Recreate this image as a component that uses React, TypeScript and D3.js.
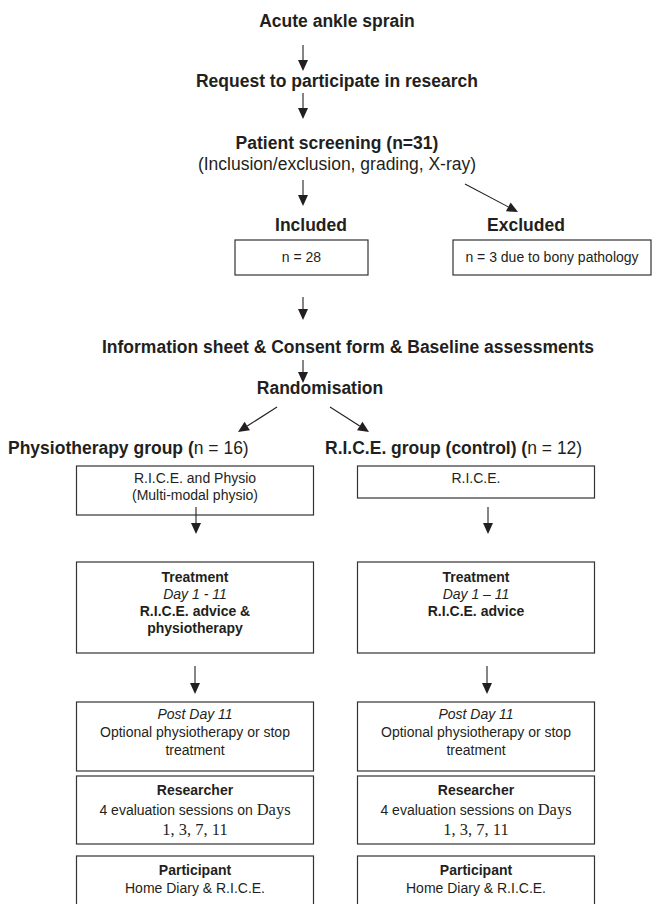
import React, { useEffect, useRef } from "react";
import * as d3 from "d3";

// flow steps, top part
const topSteps = ["Acute ankle sprain", "Request to participate in research"];
const screeningTitle = "Patient screening (n=31)";
const screeningNote = "(Inclusion/exclusion, grading, X-ray)";
const outcomeTitles = ["Included", "Excluded"];
const outcomeCounts = ["n = 28", "n = 3 due to bony pathology"];
const consentStep = "Information sheet & Consent form & Baseline assessments";
const randomStep = "Randomisation";

// the two arms
const groupNames = ["Physiotherapy group (", "R.I.C.E. group (control) ("];
const groupCounts = ["n = 16)", "n = 12)"];
const groupInterventions = [["R.I.C.E. and Physio", "(Multi-modal physio)"], ["R.I.C.E."]];
const treatmentTitle = "Treatment";
const treatmentDays = ["Day 1 - 11", "Day 1 \u2013 11"];
const treatmentBody = [["R.I.C.E. advice &", "physiotherapy"], ["R.I.C.E. advice"]];
const postTitle = "Post Day 11";
const postBody = ["Optional physiotherapy or stop", "treatment"];
const researcherTitle = "Researcher";
const researcherBody = "4 evaluation sessions on ";
const researcherDaysWord = "Days";
const researcherDayList = "1, 3, 7, 11";
const participantTitle = "Participant";
const participantBody = "Home Diary & R.I.C.E.";

const W = 659;
const H = 904;
const SANS = "'Liberation Sans', Arial, Helvetica, sans-serif";
const SERIF = "'Liberation Serif', 'Times New Roman', serif";
const INK = "#231f20";
const HEAD = 17.5;
const BODY = 14;

const drawChart = (svgEl: SVGSVGElement) => {
    const svg = d3.select(svgEl);
    svg.selectAll("*").remove();
    const g = svg.append("g");

    // column centres for the two arms
    const colBox = d3.scalePoint<number>().domain([0, 1]).range([195, 476]);
    const colArrow = d3.scalePoint<number>().domain([0, 1]).range([196, 488]);
    const boxW = 237;

    const label = (x: number, y: number, str: string, size: number, bold = false, anchor = "middle", italic = false) =>
        g.append("text")
            .attr("x", x)
            .attr("y", y)
            .attr("text-anchor", anchor)
            .attr("font-family", SANS)
            .attr("font-size", size)
            .attr("font-weight", bold ? "bold" : "normal")
            .attr("font-style", italic ? "italic" : "normal")
            .attr("fill", INK)
            .text(str);

    const box = (x: number, y: number, w: number, h: number) =>
        g.append("rect")
            .attr("x", x)
            .attr("y", y)
            .attr("width", w)
            .attr("height", h)
            .attr("fill", "none")
            .attr("stroke", "#333")
            .attr("stroke-width", 1.2);

    const arrow = (x1: number, y1: number, x2: number, y2: number) => {
        const ang = Math.atan2(y2 - y1, x2 - x1);
        const len = 11, half = 5;
        const bx = x2 - len * Math.cos(ang), by = y2 - len * Math.sin(ang);
        g.append("line")
            .attr("x1", x1).attr("y1", y1)
            .attr("x2", bx).attr("y2", by)
            .attr("stroke", INK).attr("stroke-width", 1.1);
        const px = -Math.sin(ang) * half, py = Math.cos(ang) * half;
        g.append("path")
            .attr("d", d3.line()([[x2, y2], [bx + px, by + py], [bx - px, by - py]]) + "Z")
            .attr("fill", INK);
    };

    // top chain
    label(337, 27, topSteps[0], HEAD, true);
    arrow(303, 45, 303, 71);
    label(337, 87, topSteps[1], HEAD, true);
    arrow(303, 93, 303, 119);
    label(337, 149, screeningTitle, HEAD, true);
    label(337, 170, screeningNote, HEAD);
    arrow(303, 180, 303, 206);
    arrow(465, 184, 518, 212);

    // included / excluded
    label(311, 231, outcomeTitles[0], HEAD, true);
    label(526, 231, outcomeTitles[1], HEAD, true);
    box(235, 240, 133, 35);
    box(453, 240, 198, 35);
    label(301.5, 262, outcomeCounts[0], BODY);
    label(552, 262, outcomeCounts[1], BODY);

    arrow(303, 297, 303, 320);
    label(348, 353, consentStep, HEAD, true);
    arrow(303, 360, 303, 383);
    label(320, 394, randomStep, HEAD, true);
    arrow(277, 407, 238, 432);
    arrow(330, 407, 369, 432);

    // group headings
    const headX = [8, 325];
    groupNames.forEach((name, i) => {
        const t = label(headX[i], 454, "", HEAD, true, "start");
        t.append("tspan").text(name);
        t.append("tspan").attr("font-weight", "normal").text(groupCounts[i]);
    });

    // intervention boxes
    const interH = [49, 32];
    groupInterventions.forEach((lines, i) => {
        box(colBox(i)! - boxW / 2, 466, boxW, interH[i]);
        lines.forEach((ln, j) => label(colBox(i)!, 483 + j * 17, ln, BODY));
        arrow(colArrow(i)!, 507, colArrow(i)!, 534);
    });

    // treatment and follow-up boxes
    [0, 1].forEach((i) => {
        const cx = colBox(i)!;
        box(cx - boxW / 2, 562, boxW, 91);
        label(cx, 582, treatmentTitle, BODY, true);
        label(cx, 599, treatmentDays[i], BODY, false, "middle", true);
        treatmentBody[i].forEach((ln, j) => label(cx, 616 + j * 17, ln, BODY, true));
        arrow(colArrow(i)! - 1, 666, colArrow(i)! - 1, 694);

        // post day 11
        box(cx - boxW / 2, 702, boxW, 69);
        label(cx, 719, postTitle, BODY, false, "middle", true);
        postBody.forEach((ln, j) => label(cx, 737 + j * 18, ln, BODY));

        // researcher
        box(cx - boxW / 2, 776, boxW, 68);
        label(cx, 795, researcherTitle, BODY, true);
        const r = label(cx, 815, "", BODY);
        r.append("tspan").text(researcherBody);
        r.append("tspan").attr("font-family", SERIF).attr("font-size", 16.5).text(researcherDaysWord);
        label(cx, 835, researcherDayList, 16.5).attr("font-family", SERIF);

        // participant
        box(cx - boxW / 2, 856, boxW, 60);
        label(cx, 875, participantTitle, BODY, true);
        label(cx, 893, participantBody, BODY);
    });
};

const App = () => {
    const ref = useRef<SVGSVGElement>(null);
    useEffect(() => {
        if (ref.current) drawChart(ref.current);
    });
    return (
        <svg ref={ref} width={W} height={H}
             style={{position: "absolute", left: 0, top: 0, background: "#fff"}}/>
    );
};

export default App;
